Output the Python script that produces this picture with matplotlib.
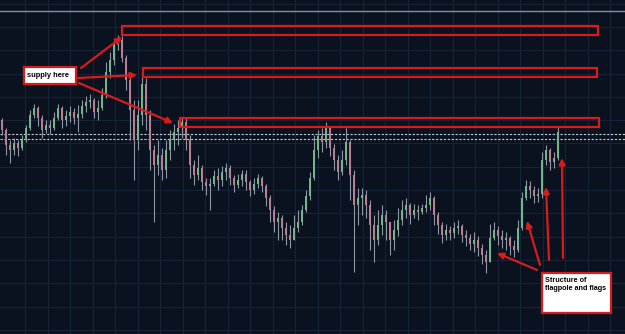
import numpy as np
import matplotlib
matplotlib.use("Agg")
import matplotlib.pyplot as plt
from matplotlib.patches import Rectangle

# -----------------------------
# DATA (price in chart points)
# -----------------------------
first_open = 214
close = [204, 189, 184, 191, 186, 194, 206, 219, 226, 216,
         204, 209, 206, 216, 226, 214, 218, 222, 216, 220,
         228, 232, 234, 222, 226, 239, 262, 274, 289, 294,
         276, 254, 224, 194, 219, 250, 219, 184, 169, 179,
         164, 184, 194, 202, 206, 212, 194, 169, 159, 166,
         152, 148, 150, 158, 154, 162, 166, 156, 149, 154,
         160, 152, 144, 150, 156, 148, 136, 124, 112, 116,
         106, 99, 94, 106, 112, 124, 138, 156, 184, 198,
         192, 206, 186, 174, 162, 174, 192, 159, 129, 136,
         139, 129, 109, 94, 109, 119, 112, 94, 104, 114,
         124, 129, 119, 124, 122, 126, 129, 136, 119, 109,
         99, 104, 101, 106, 108, 99, 96, 90, 94, 86,
         79, 72, 96, 104, 98, 94, 96, 88, 84, 106,
         136, 148, 144, 138, 140, 174, 184, 172, 176, 202]
high = [216, 206, 194, 196, 194, 199, 209, 224, 230, 228,
        219, 214, 214, 222, 230, 228, 224, 228, 226, 229,
        234, 238, 240, 236, 234, 246, 272, 282, 294, 299,
        298, 279, 259, 234, 234, 258, 256, 224, 189, 194,
        186, 194, 204, 210, 214, 216, 216, 199, 174, 179,
        169, 156, 156, 164, 166, 168, 171, 169, 159, 160,
        164, 164, 154, 156, 160, 158, 150, 139, 128, 122,
        119, 112, 109, 119, 124, 129, 144, 162, 199, 204,
        206, 212, 208, 190, 179, 184, 206, 194, 164, 146,
        146, 144, 134, 119, 124, 129, 124, 109, 114, 126,
        134, 136, 131, 130, 129, 130, 139, 142, 138, 122,
        112, 110, 108, 112, 114, 110, 104, 100, 102, 98,
        90, 84, 110, 112, 108, 104, 102, 98, 94, 114,
        142, 154, 153, 148, 146, 182, 189, 186, 182, 208]
low = [199, 179, 171, 179, 178, 184, 192, 204, 216, 208,
       196, 201, 200, 204, 214, 206, 208, 212, 210, 202,
       216, 222, 226, 216, 214, 224, 236, 256, 269, 284,
       272, 244, 194, 154, 184, 209, 204, 164, 112, 159,
       154, 156, 174, 184, 189, 196, 184, 156, 149, 154,
       144, 139, 124, 148, 144, 148, 154, 149, 142, 146,
       148, 144, 138, 140, 146, 142, 128, 112, 102, 94,
       94, 89, 86, 94, 102, 109, 122, 134, 154, 176,
       182, 186, 178, 164, 154, 159, 169, 134, 62, 109,
       119, 116, 84, 72, 89, 99, 94, 79, 84, 98,
       109, 116, 110, 116, 114, 120, 122, 124, 109, 100,
       91, 94, 94, 96, 100, 92, 88, 84, 82, 78,
       70, 61, 72, 94, 89, 86, 84, 79, 77, 82,
       104, 134, 136, 131, 132, 136, 169, 164, 166, 174]

# supply zones: (start candle, end candle, low, high)
zone_start = [30, 35.25, 44.5]
zone_end = [149, 148.75, 149.25]
zone_low = [299, 257, 207]
zone_high = [308, 266, 216]

dashed_levels = [200, 195]
top_level = 323

# callouts
supply_box = (5.5, 250, 13, 17)          # x, y, w, h in data units
supply_arrows = [((19.75, 266), (30, 297)),
                 ((19, 256), (33.75, 259)),
                 ((19.25, 251), (42.75, 211))]
flag_box = (135, 21, 17.25, 40)
flag_arrows = [((133.75, 64), (123.75, 81)),
               ((134.5, 69), (131.25, 113)),
               ((136.75, 74), (136, 147)),
               ((140.25, 76), (140, 176))]

# -----------------------------
# PLOT
# -----------------------------
BG = "#0a111f"
UP = "#74b488"
DOWN = "#bb7d90"
WICK = "#9097a4"
RED = "#d81c1c"

close = np.array(close, dtype=float)
high = np.array(high, dtype=float)
low = np.array(low, dtype=float)
opens = np.concatenate([[first_open], close[:-1]])
idx = np.arange(len(close))

fig = plt.figure(figsize=(6.25, 3.34), dpi=100, facecolor=BG)
ax = fig.add_axes([0, 0, 1, 1])
ax.set_facecolor(BG)
ax.set_xlim(-0.5, 155.75)
ax.set_ylim(0, 334)

# grid
for gx in np.arange(5.75, 156, 5.625):
    ax.axvline(gx, color="#18243a", lw=0.7, zorder=0)
for gy in np.arange(4.2, 334, 23.3):
    ax.axhline(gy, color="#18243a", lw=0.7, zorder=0)

ax.axhline(top_level, color="#8a8f9c", lw=1.0, zorder=1)
for lv in dashed_levels:
    ax.axhline(lv, color="#c8ccd4", lw=0.8, ls=(0, (2, 1.5)), zorder=1)

# candles
hi = np.maximum(high, np.maximum(opens, close))
lo = np.minimum(low, np.minimum(opens, close))
colors = [UP if c >= o else DOWN for o, c in zip(opens, close)]
ax.vlines(idx, lo, hi, color=WICK, lw=0.8, zorder=2)
body_h = np.maximum(np.abs(close - opens), 0.8)
ax.bar(idx, body_h, bottom=np.minimum(opens, close), width=0.62,
       color=colors, edgecolor="none", zorder=3)

# supply zones
for x0, x1, y0, y1 in zip(zone_start, zone_end, zone_low, zone_high):
    ax.add_patch(Rectangle((x0, y0), x1 - x0, y1 - y0, fill=False,
                           edgecolor=RED, lw=1.6, zorder=4))

arrow_kw = dict(arrowstyle="-|>", color=RED, lw=1.6, mutation_scale=9,
                shrinkA=0, shrinkB=0)
for (x0, y0), (x1, y1) in supply_arrows + flag_arrows:
    ax.annotate("", xy=(x1, y1), xytext=(x0, y0), arrowprops=arrow_kw, zorder=5)

font = ["Liberation Sans", "DejaVu Sans"]

bx, by, bw, bh = supply_box
ax.add_patch(Rectangle((bx, by), bw, bh, facecolor="white",
                       edgecolor=RED, lw=1.6, zorder=6))
ax.text(bx + 0.7, by + bh / 2, "supply here", fontsize=5.4, fontweight="bold",
        family=font, color="black", va="center", ha="left", zorder=7)

fx, fy, fw, fh = flag_box
ax.add_patch(Rectangle((fx, fy), fw, fh, facecolor="white",
                       edgecolor=RED, lw=1.6, zorder=6))
ax.text(fx + 0.7, fy + fh - 3.5, "Structure of\nflagpole and flags", fontsize=5.2,
        fontweight="bold", family=font, color="black", va="top", ha="left",
        linespacing=1.2, zorder=7)

ax.axis("off")
fig.savefig("out.png", dpi=100, facecolor=BG)
